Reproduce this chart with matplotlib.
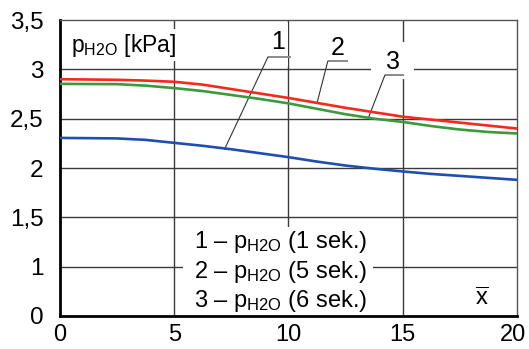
import numpy as np
import matplotlib
matplotlib.use("Agg")
import matplotlib.pyplot as plt
import matplotlib.transforms as mtransforms
from matplotlib.patches import Rectangle

plt.rcParams['font.family'] = ['Liberation Sans', 'DejaVu Sans']
plt.rcParams['mathtext.fontset'] = 'custom'
plt.rcParams['mathtext.rm'] = 'Liberation Sans'
plt.rcParams['mathtext.it'] = 'Liberation Sans:italic'

# values
x = [0, 2.5, 3.75, 5, 6.25, 7.5, 8.75, 10, 11.25, 12.5, 13.75, 15, 16.25, 17.5, 18.75, 20]
p_1s = [2.305, 2.30, 2.285, 2.255, 2.225, 2.19, 2.15, 2.11, 2.065, 2.025, 1.993, 1.965, 1.94, 1.92, 1.90, 1.88]
p_5s = [2.90, 2.894, 2.886, 2.874, 2.845, 2.80, 2.755, 2.71, 2.66, 2.61, 2.565, 2.52, 2.49, 2.46, 2.43, 2.40]
p_6s = [2.853, 2.85, 2.835, 2.81, 2.78, 2.74, 2.70, 2.655, 2.60, 2.545, 2.50, 2.467, 2.425, 2.39, 2.365, 2.35]

x_ticks = [0, 5, 10, 15, 20]
y_ticks = [0, 1, 1.5, 2, 2.5, 3, 3.5]
y_ticklabels = ['0', '1', '1,5', '2', '2,5', '3', '3,5']
legend_lines = [r'1 – p$_{\mathrm{H2O}}$ (1 sek.)',
                r'2 – p$_{\mathrm{H2O}}$ (5 sek.)',
                r'3 – p$_{\mathrm{H2O}}$ (6 sek.)']


# broken y axis: 0..1 takes as much room as 0.5 above 1
def fwd(v):
    v = np.asarray(v, dtype=float)
    return np.where(v < 1, v, 1 + 2 * (v - 1))


def inv(p):
    p = np.asarray(p, dtype=float)
    return np.where(p < 1, p, 1 + (p - 1) / 2)


fig = plt.figure(figsize=(5.29, 3.49), dpi=100)
ax = fig.add_axes([0.1134, 0.0946, 0.8639, 0.848])
ax.set_yscale('function', functions=(fwd, inv))
ax.set_xlim(0, 20)
ax.set_ylim(0, 3.5)

ax.set_xticks(x_ticks)
ax.set_yticks(y_ticks)
ax.set_yticklabels(y_ticklabels)
ax.tick_params(axis='both', length=0, labelsize=17.5)
ax.tick_params(axis='x', labelsize=17)
ax.tick_params(axis='y', pad=12)
ax.tick_params(axis='x', pad=6)

# last x label sits a bit left so it stays inside the picture
fig.canvas.draw()
last = ax.get_xticklabels()[-1]
last.set_transform(last.get_transform() +
                   mtransforms.ScaledTranslation(-4 / 100, 0, fig.dpi_scale_trans))

# grid
for gx in [5, 10, 15]:
    ax.axvline(gx, color='#3a3a3a', lw=1.0, zorder=0.5)
for gy in [1, 1.5, 2, 2.5, 3]:
    ax.axhline(gy, color='#3a3a3a', lw=1.0, zorder=0.5)

for side in ['left', 'bottom']:
    ax.spines[side].set_linewidth(2.0)
    ax.spines[side].set_color('black')
for side in ['top', 'right']:
    ax.spines[side].set_linewidth(1.0)
    ax.spines[side].set_color('#555555')

ax.plot(x, p_5s, color='#f5291c', lw=1.9, zorder=3)
ax.plot(x, p_6s, color='#3c9a3c', lw=1.9, zorder=3)
ax.plot(x, p_1s, color='#1f4fae', lw=1.9, zorder=3)

# white area behind the legend text
ax.add_patch(Rectangle((0.269, 0.0), 0.416, 0.30, transform=ax.transAxes,
                       facecolor='white', edgecolor='none', zorder=1))
ax.text(0.294, 0.150, '\n'.join(legend_lines), transform=ax.transAxes,
        fontsize=17, ha='left', va='center', linespacing=1.18, zorder=2)

# axis labels
ax.text(0.024, 0.915, r'p$_{\mathrm{H2O}}$ [kPa]', transform=ax.transAxes,
        fontsize=16.5, ha='left', va='center', zorder=2,
        bbox=dict(boxstyle='square,pad=0.12', facecolor='white', edgecolor='none'))
ax.text(0.923, 0.058, r'$\overline{\mathrm{x}}$', transform=ax.transAxes,
        fontsize=17, ha='center', va='center', zorder=2)

# curve numbers with leaders
labels = [('1', (0.477, 0.925), (0.455, 0.505, 0.875), (7.2, 2.19), (0.44, 0.50, 0.845, 0.99)),
          ('2', (0.608, 0.905), (0.586, 0.630, 0.861), (11.25, 2.66), None),
          ('3', (0.729, 0.858), (0.711, 0.753, 0.814), (13.5, 2.51), (0.68, 0.775, 0.80, 0.925))]
for txt, tpos, uline, target, mask in labels:
    if mask is not None:
        ax.add_patch(Rectangle((mask[0], mask[2]), mask[1] - mask[0], mask[3] - mask[2],
                               transform=ax.transAxes, facecolor='white',
                               edgecolor='none', zorder=1))
    ax.text(tpos[0], tpos[1], txt, transform=ax.transAxes, fontsize=18,
            ha='center', va='center', zorder=2)
    ax.plot([uline[0], uline[1]], [uline[2], uline[2]], transform=ax.transAxes,
            color='#8a8a8a', lw=1.4, zorder=2, solid_capstyle='butt')
    ax.annotate('', xy=target, xycoords='data',
                xytext=(uline[0], uline[2]), textcoords='axes fraction',
                arrowprops=dict(arrowstyle='-', color='#333333', lw=0.8,
                                shrinkA=0, shrinkB=0), zorder=2)

fig.savefig('out.png', dpi=100)
